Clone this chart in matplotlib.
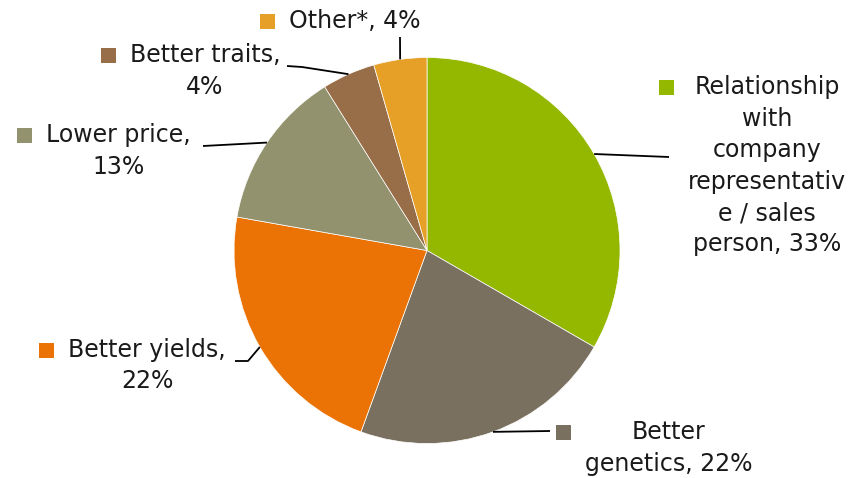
import numpy as np
import matplotlib
matplotlib.use("Agg")
import matplotlib.pyplot as plt
from matplotlib.patches import Rectangle

# ---- data ----
categories = ["Relationship with company representative / sales person",
              "Better genetics", "Better yields", "Lower price",
              "Better traits", "Other*"]
values = [15, 10, 10, 6, 2, 2]
colors = ["#94B800", "#7A7060", "#EB7305", "#92926E", "#986E48", "#E6A028"]
label_templates = [
    ["Relationship", "with", "company", "representativ", "e / sales", "person, {p}%"],
    ["Better", "genetics, {p}%"],
    ["Better yields,", "{p}%"],
    ["Lower price,", "{p}%"],
    ["Better traits,", "{p}%"],
    ["Other*, {p}%"],
]

W, H = 855, 478
fig = plt.figure(figsize=(W / 100, H / 100), dpi=100)
ax = fig.add_axes([0, 0, 1, 1])

def Y(y):
    return H - y

cx, cy, R = 427, Y(250.5), 193
wedges, _ = ax.pie(values, colors=colors, startangle=90, counterclock=False,
                   center=(cx, cy), radius=R,
                   wedgeprops=dict(edgecolor="white", linewidth=0.5))
ax.set_xlim(0, W)
ax.set_ylim(0, H)
ax.set_aspect("equal")
ax.axis("off")

total = sum(values)
pcts = [int(round(v / total * 100)) for v in values]

def edge_point(w):
    ang = np.deg2rad((w.theta1 + w.theta2) / 2)
    return cx + R * np.cos(ang), cy + R * np.sin(ang)

# layout: (block center x, first line y, leader path from label side)
layout = [
    (767, 87, [(669, 157)]),
    (669, 432, [(550, 431)]),
    (147, 350, [(235, 361), (248, 361)]),
    (118.5, 135, [(203, 146)]),
    (205, 55, [(287, 66), (302, 67)]),
    (355, 21, [(400, 37)]),
]

fs = 17
lh = 31.5
txtcol = "#1a1a1a"
fig.canvas.draw()
renderer = fig.canvas.get_renderer()
inv = ax.transData.inverted()

for i, (w, (bx, by, path)) in enumerate(zip(wedges, layout)):
    lines = [s.format(p=pcts[i]) for s in label_templates[i]]
    texts = []
    for k, s in enumerate(lines):
        t = ax.text(bx, Y(by + k * lh), s, ha="center", va="center",
                    fontsize=fs, color=txtcol, family="DejaVu Sans")
        texts.append(t)
    lefts = []
    for t in texts:
        bb = t.get_window_extent(renderer=renderer)
        lefts.append(inv.transform((bb.x0, bb.y0))[0])
    left = min(lefts)
    ms = 15
    ax.add_patch(Rectangle((left - 14 - ms, Y(by) - ms / 2), ms, ms,
                           facecolor=colors[i], edgecolor="none"))
    ex, ey = edge_point(w)
    pts = [(px, Y(py)) for px, py in path] + [(ex, ey)]
    xs, ys = zip(*pts)
    ax.plot(xs, ys, color="black", linewidth=1.3, solid_capstyle="butt")

fig.savefig("out.png", dpi=100)
